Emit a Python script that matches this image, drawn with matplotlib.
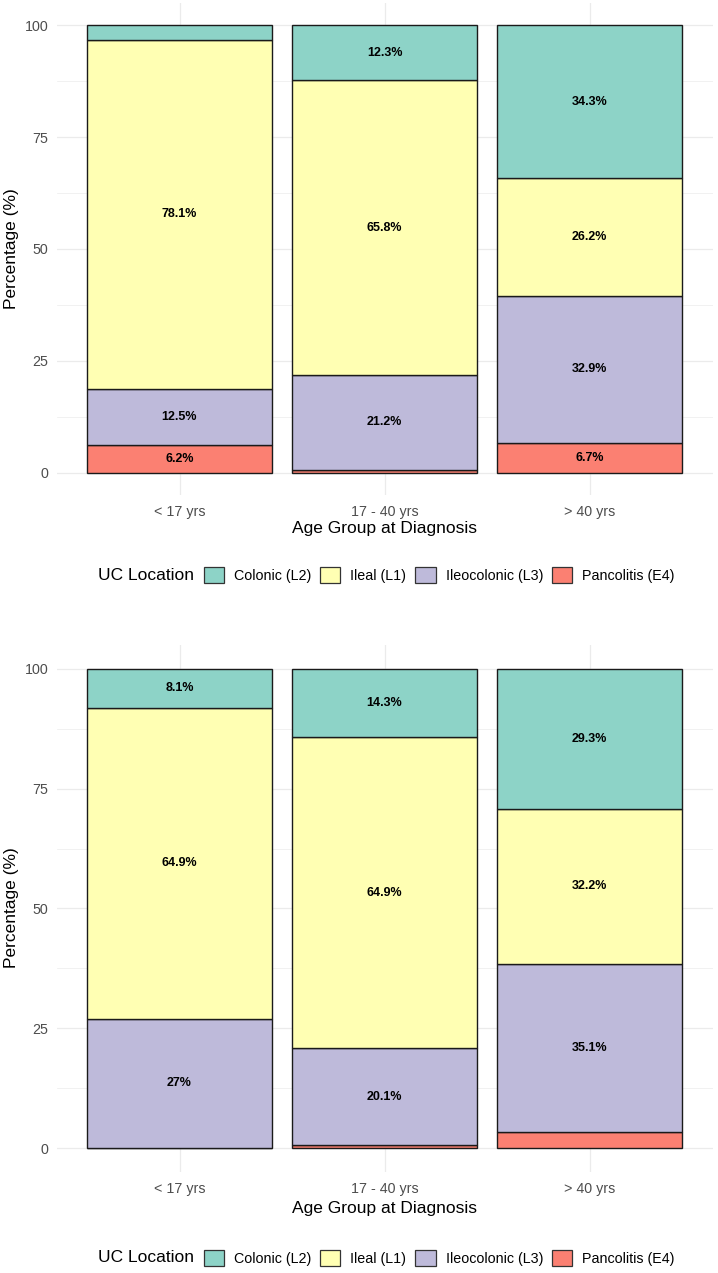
import numpy as np
import matplotlib.pyplot as plt
from matplotlib.patches import Patch

plt.rcParams['font.family'] = ['Liberation Sans', 'DejaVu Sans']

# =====================================================
# Data (percentages)
# =====================================================
age_groups = ["< 17 yrs", "17 - 40 yrs", "> 40 yrs"]
locations = ["Colonic (L2)", "Ileal (L1)", "Ileocolonic (L3)", "Pancolitis (E4)"]
colors = ["#8DD3C7", "#FFFFB3", "#BEBADA", "#FB8072"]

# top chart
top_colonic = [3.2, 12.3, 34.3]
top_ileal = [78.1, 65.8, 26.2]
top_ileocolonic = [12.5, 21.2, 32.9]
top_pancolitis = [6.2, 0.7, 6.7]

# bottom chart
bot_colonic = [8.1, 14.3, 29.3]
bot_ileal = [64.9, 64.9, 32.2]
bot_ileocolonic = [27.0, 20.1, 35.1]
bot_pancolitis = [0.0, 0.7, 3.4]

W, H = 718, 1273
fig = plt.figure(figsize=(W / 100, H / 100), dpi=100)


def px_axes(x0, x1, y_top, y_bot):
    return fig.add_axes([x0 / W, 1 - y_bot / H, (x1 - x0) / W, (y_bot - y_top) / H])


def draw_panel(ax, colonic, ileal, ileocolonic, pancolitis):
    x = np.arange(1, len(age_groups) + 1)
    # stacked bottom -> top: pancolitis, ileocolonic, ileal, colonic
    stack = [pancolitis, ileocolonic, ileal, colonic]
    stack_colors = [colors[3], colors[2], colors[1], colors[0]]
    bottom = np.zeros(len(x))
    for vals, col in zip(stack, stack_colors):
        vals = np.array(vals)
        ax.bar(x, vals, width=0.9, bottom=bottom, color=col,
               edgecolor="#1a1a1a", linewidth=1.0, zorder=2)
        for xi, b, v in zip(x, bottom, vals):
            if v >= 5:
                ax.text(xi, b + v / 2, f"{v:g}%", ha="center", va="center",
                        fontsize=9, fontweight="bold", color="black", zorder=3)
        bottom = bottom + vals

    ax.set_xlim(0.4, 3.6)
    ax.set_ylim(-5, 105)
    ax.set_xticks(x)
    ax.set_xticklabels(age_groups)
    ax.set_yticks([0, 25, 50, 75, 100])
    ax.set_yticks([12.5, 37.5, 62.5, 87.5], minor=True)
    ax.tick_params(axis="both", which="both", length=0, labelsize=10.3,
                   labelcolor="#4D4D4D")
    ax.tick_params(axis="x", pad=7)
    ax.tick_params(axis="y", pad=6)
    ax.grid(True, which="major", color="#EBEBEB", linewidth=0.9, zorder=0)
    ax.grid(True, which="minor", axis="y", color="#EBEBEB", linewidth=0.5, zorder=0)
    ax.set_axisbelow(True)
    for s in ax.spines.values():
        s.set_visible(False)


def draw_legend(y_px):
    handles = [Patch(facecolor=c, edgecolor="#333333", linewidth=0.9) for c in colors]
    fig.text(98 / W, 1 - y_px / H, "UC Location", ha="left", va="center",
             fontsize=12.5, color="black")
    fig.legend(handles, locations, loc="center left",
               bbox_to_anchor=(204 / W, 1 - y_px / H), ncol=4, frameon=False,
               fontsize=10.3, handlelength=1.4, handleheight=1.4,
               handletextpad=0.7, columnspacing=0.63, borderpad=0,
               borderaxespad=0)


# =====================================================
# Top chart
# =====================================================
ax1 = px_axes(56.5, 712.5, 3, 495)
draw_panel(ax1, top_colonic, top_ileal, top_ileocolonic, top_pancolitis)
fig.text(385 / W, 1 - 529 / H, "Age Group at Diagnosis", ha="center",
         va="center", fontsize=12.5)
fig.text(12 / W, 1 - 249 / H, "Percentage (%)", ha="center", va="center",
         rotation=90, fontsize=12.5)
draw_legend(575)

# =====================================================
# Bottom chart
# =====================================================
ax2 = px_axes(56.5, 712.5, 645, 1172)
draw_panel(ax2, bot_colonic, bot_ileal, bot_ileocolonic, bot_pancolitis)
fig.text(385 / W, 1 - 1208 / H, "Age Group at Diagnosis", ha="center",
         va="center", fontsize=12.5)
fig.text(12 / W, 1 - 908 / H, "Percentage (%)", ha="center", va="center",
         rotation=90, fontsize=12.5)
draw_legend(1258)

fig.savefig("out.png", dpi=100, facecolor="white")
